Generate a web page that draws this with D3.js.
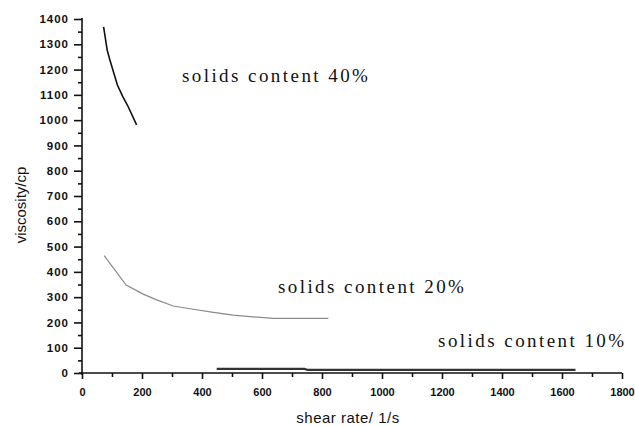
<!DOCTYPE html>
<html>
<head>
<meta charset="utf-8">
<script src="https://cdn.jsdelivr.net/npm/d3@7"></script>
<style>
  body { margin: 0; background: #fff; }
  svg { display: block; }
</style>
</head>
<body>
<div id="chart"></div>
<script>
// shear rate (1/s) and viscosity (cp)
const rate40 = [72, 84, 93, 118, 136, 154, 182];
const visc40 = [1369, 1277, 1238, 1139, 1093, 1053, 981];

const rate20 = [74, 147, 204, 249, 304, 371, 438, 504, 560, 638, 821];
const visc20 = [464, 348, 312, 289, 265, 252, 240, 229, 223, 216, 216];

const rate10 = [449, 742, 752, 1645];
const visc10 = [16, 16, 12, 12];

const xTicks = [0, 200, 400, 600, 800, 1000, 1200, 1400, 1600, 1800];
const yTicks = [0, 100, 200, 300, 400, 500, 600, 700, 800, 900, 1000, 1100, 1200, 1300, 1400];

const seriesLabels = ["solids content 40%", "solids content 20%", "solids content 10%"];
// label anchor points, in data units
const labelRate = [333, 653, 1187];
const labelVisc = [1151, 316, 103];

const width = 635;
const height = 426;

const x = d3.scaleLinear().domain([0, 1800]).range([82, 622]);
const y = d3.scaleLinear().domain([0, 1400]).range([373, 19]);

const svg = d3.select("#chart")
  .append("svg")
  .attr("width", width)
  .attr("height", height);

// minor ticks first, then major ticks with labels
svg.append("g")
  .attr("transform", `translate(0,${y(0)})`)
  .call(d3.axisBottom(x).tickValues(d3.range(100, 1800, 200)).tickSize(4).tickFormat(""))
  .call(g => g.select(".domain").remove());

svg.append("g")
  .attr("transform", `translate(${x(0)},0)`)
  .call(d3.axisLeft(y).tickValues(d3.range(50, 1400, 100)).tickSize(4).tickFormat(""))
  .call(g => g.select(".domain").remove());

const xAxis = svg.append("g")
  .attr("transform", `translate(0,${y(0)})`)
  .call(d3.axisBottom(x).tickValues(xTicks).tickFormat(d3.format("d"))
    .tickSize(6).tickPadding(9).tickSizeOuter(0));

const yAxis = svg.append("g")
  .attr("transform", `translate(${x(0)},0)`)
  .call(d3.axisLeft(y).tickValues(yTicks).tickFormat(d3.format("d"))
    .tickSize(8).tickPadding(5).tickSizeOuter(0));

xAxis.select(".domain").attr("d", `M${x(0) - 3},0H${x(1800)}`);
yAxis.select(".domain").attr("d", `M0,${y(0) + 2}V${y(1400) - 1}`);

svg.selectAll(".domain, .tick line")
  .attr("stroke", "#111")
  .attr("stroke-width", 1.6);

svg.selectAll(".tick text")
  .style("font-family", "Arial, 'Liberation Sans', sans-serif")
  .style("font-size", "11.5px")
  .style("font-weight", "bold")
  .attr("fill", "#111");

yAxis.selectAll(".tick text").style("letter-spacing", "1px");
xAxis.selectAll(".tick text").style("font-size", "11px");

// curves
const line = d3.line().x(d => x(d[0])).y(d => y(d[1]));

svg.append("path")
  .datum(d3.zip(rate40, visc40))
  .attr("d", line)
  .attr("fill", "none")
  .attr("stroke", "#111")
  .attr("stroke-width", 1.6);

svg.append("path")
  .datum(d3.zip(rate20, visc20))
  .attr("d", line)
  .attr("fill", "none")
  .attr("stroke", "#8a8a8a")
  .attr("stroke-width", 1.2);

svg.append("path")
  .datum(d3.zip(rate10, visc10))
  .attr("d", line)
  .attr("fill", "none")
  .attr("stroke", "#333")
  .attr("stroke-width", 2.2);

// series labels
svg.selectAll(".series-label")
  .data(seriesLabels)
  .enter()
  .append("text")
  .attr("class", "series-label")
  .attr("x", (d, i) => x(labelRate[i]))
  .attr("y", (d, i) => y(labelVisc[i]))
  .attr("textLength", 186)
  .attr("lengthAdjust", "spacing")
  .style("font-family", "'Liberation Serif', 'Times New Roman', serif")
  .style("font-size", "19px")
  .attr("fill", "#111")
  .text(d => d);

// axis titles
svg.append("text")
  .attr("transform", "translate(26,205) rotate(-90)")
  .attr("text-anchor", "middle")
  .style("font-family", "Arial, 'Liberation Sans', sans-serif")
  .style("font-size", "15px")
  .attr("fill", "#111")
  .text("viscosity/cp");

svg.append("text")
  .attr("x", 348)
  .attr("y", 423)
  .attr("text-anchor", "middle")
  .style("font-family", "Arial, 'Liberation Sans', sans-serif")
  .style("font-size", "15px")
  .style("letter-spacing", "0.5px")
  .attr("fill", "#111")
  .text("shear rate/ 1/s");
</script>
</body>
</html>
